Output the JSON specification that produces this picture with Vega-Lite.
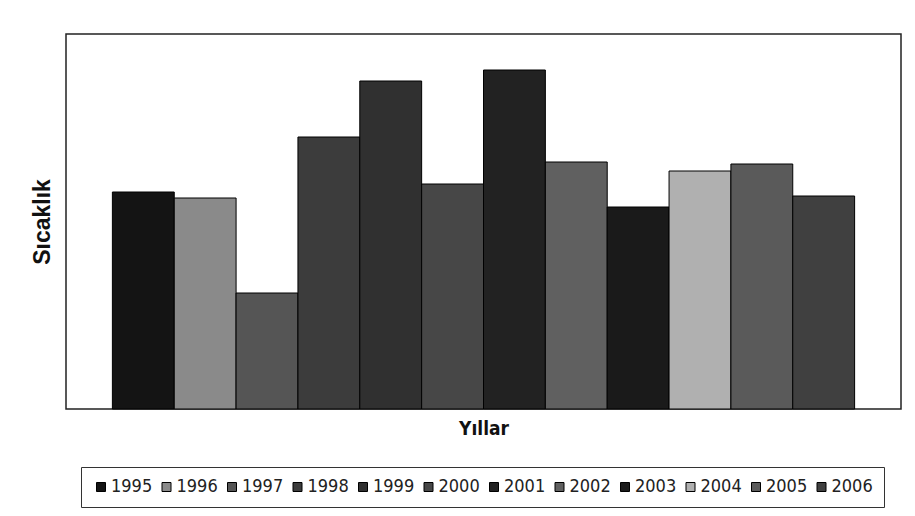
{
  "$schema": "https://vega.github.io/schema/vega-lite/v6.json",
  "width": 835,
  "height": 375,
  "autosize": {"type": "none"},
  "padding": {"left": 66, "top": 34, "right": 14, "bottom": 107},
  "background": "white",
  "config": {
    "view": {"stroke": "#222", "strokeWidth": 1.5},
    "font": "Liberation Sans"
  },
  "data": {
    "values": [
      {"yil": "1995", "sicaklik": 217},
      {"yil": "1996", "sicaklik": 211},
      {"yil": "1997", "sicaklik": 116},
      {"yil": "1998", "sicaklik": 272},
      {"yil": "1999", "sicaklik": 328},
      {"yil": "2000", "sicaklik": 225},
      {"yil": "2001", "sicaklik": 339},
      {"yil": "2002", "sicaklik": 247},
      {"yil": "2003", "sicaklik": 202},
      {"yil": "2004", "sicaklik": 238},
      {"yil": "2005", "sicaklik": 245},
      {"yil": "2006", "sicaklik": 213}
    ]
  },
  "mark": {"type": "bar", "stroke": "#000", "strokeWidth": 1},
  "encoding": {
    "x": {
      "field": "yil",
      "type": "nominal",
      "sort": null,
      "scale": {"paddingInner": 0, "paddingOuter": 0.75},
      "axis": {
        "labels": false,
        "ticks": false,
        "domain": false,
        "title": "Yıllar",
        "titleFont": "DejaVu Sans Condensed",
        "titleFontSize": 19,
        "titleFontWeight": "bold",
        "titleColor": "#111",
        "titlePadding": 10
      }
    },
    "y": {
      "field": "sicaklik",
      "type": "quantitative",
      "scale": {"domain": [0, 375], "nice": false},
      "axis": {
        "labels": false,
        "ticks": false,
        "domain": false,
        "grid": false,
        "title": "Sıcaklık",
        "titleFontSize": 23,
        "titleFontWeight": "bold",
        "titleColor": "#111",
        "titlePadding": 12
      }
    },
    "fill": {
      "field": "yil",
      "type": "nominal",
      "sort": null,
      "scale": {
        "range": ["#141414", "#8a8a8a", "#555555", "#3c3c3c", "#303030", "#474747", "#222222", "#606060", "#1a1a1a", "#b0b0b0", "#5a5a5a", "#404040"]
      },
      "legend": {
        "title": null,
        "orient": "none",
        "legendX": 15,
        "legendY": 433,
        "direction": "horizontal",
        "columns": 12,
        "symbolType": "square",
        "symbolSize": 81,
        "symbolStrokeColor": "#000",
        "symbolStrokeWidth": 1,
        "labelFont": "DejaVu Sans Condensed",
        "labelFontSize": 18,
        "labelColor": "#222",
        "labelOffset": 1,
        "columnPadding": 4.5,
        "padding": 11,
        "strokeColor": "#333"
      }
    }
  }
}
